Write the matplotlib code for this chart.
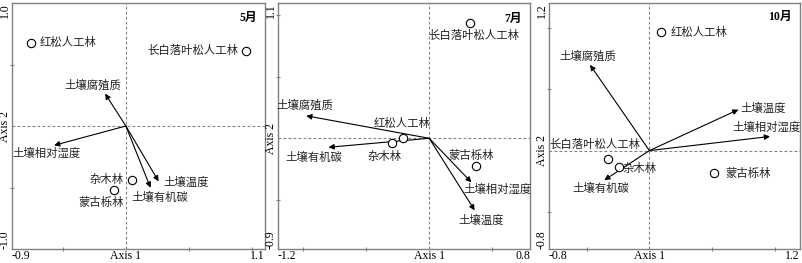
import matplotlib
matplotlib.use("Agg")
import matplotlib.pyplot as plt
import numpy as np

plt.rcParams['font.family'] = ['Liberation Serif', 'Noto Sans CJK SC', 'DejaVu Sans']

# ---------------- data ----------------
months = ['5月', '7月', '10月']
xlims = [(-0.9, 1.1), (-1.2, 0.8), (-0.8, 1.2)]
ylims = [(-1.0, 1.0), (-0.9, 1.1), (-0.8, 1.2)]
xlim_labels = [('-0.9', '1.1'), ('-1.2', '0.8'), ('-0.8', '1.2')]
ylim_labels = [('-1.0', '1.0'), ('-0.9', '1.1'), ('-0.8', '1.2')]

sites = ['红松人工林', '长白落叶松人工林', '杂木林', '蒙古栎林']
site_x_may = [-0.747, 0.947, 0.050, -0.095]
site_y_may = [0.676, 0.611, -0.437, -0.518]
site_x_jul = [-0.206, 0.322, -0.296, 0.372]
site_y_jul = [0.000, 0.935, -0.035, -0.228]
site_x_oct = [0.093, -0.332, -0.244, 0.513]
site_y_oct = [0.962, -0.071, -0.131, -0.180]

factors = ['土壤腐殖质', '土壤相对湿度', '土壤温度', '土壤有机碳']
fac_x_may = [-0.164, -0.567, 0.259, 0.195]
fac_y_may = [0.263, -0.157, -0.450, -0.502]
fac_x_jul = [-0.976, 0.335, 0.361, -0.799]
fac_y_jul = [0.183, -0.358, -0.586, -0.073]
fac_x_oct = [-0.473, 0.961, 0.709, -0.359]
fac_y_oct = [0.697, 0.115, 0.333, -0.240]

site_xs = [site_x_may, site_x_jul, site_x_oct]
site_ys = [site_y_may, site_y_jul, site_y_oct]
fac_xs = [fac_x_may, fac_x_jul, fac_x_oct]
fac_ys = [fac_y_may, fac_y_jul, fac_y_oct]

# ---------------- layout (label placement) ----------------
site_label_pos = [
    [(-0.681, 0.676, 'left'), (0.889, 0.611, 'right'), (-0.016, -0.434, 'right'), (-0.193, -0.619, 'center')],
    [(-0.219, 0.121, 'center'), (0.356, 0.833, 'center'), (-0.356, -0.148, 'center'), (0.335, -0.140, 'center')],
    [(0.173, 0.962, 'left'), (-0.438, 0.046, 'center'), (-0.080, -0.145, 'center'), (0.784, -0.186, 'center')],
]
fac_label_pos = [
    [(-0.259, 0.331), (-0.628, -0.225), (0.480, -0.456), (0.269, -0.578)],
    [(-0.984, 0.269), (0.546, -0.411), (0.414, -0.664), (-0.918, -0.156)],
    [(-0.491, 0.770), (0.930, 0.189), (0.903, 0.347), (-0.385, -0.309)],
]
month_pos = [(0.968, 0.882), (0.665, 0.968), (1.036, 1.085)]

W, H = 802, 263
fig = plt.figure(figsize=(W / 100, H / 100), dpi=100)
lefts = [12, 278, 549]
rights = [265, 530, 800]
bottom_px, top_px = 14, 3

gray = '#808080'
fs = 8.2

for i in range(3):
    ax = fig.add_axes([lefts[i] / W, bottom_px / H, (rights[i] - lefts[i]) / W,
                       (H - top_px - bottom_px) / H])
    x0, x1 = xlims[i]
    y0, y1 = ylims[i]
    ax.set_xlim(x0, x1)
    ax.set_ylim(y0, y1)
    for s in ax.spines.values():
        s.set_color(gray)
        s.set_linewidth(1.0)
    ax.axvline(0, color=gray, lw=0.8, ls=(0, (2.5, 2)), zorder=1)
    ax.axhline(0, color=gray, lw=0.8, ls=(0, (2.5, 2)), zorder=1)

    # ticks
    ax.set_xticks([x0, 0, x1])
    ax.set_xticklabels([xlim_labels[i][0], 'Axis 1', xlim_labels[i][1]])
    ax.set_yticks([y0, 0, y1])
    ax.set_yticklabels([ylim_labels[i][0], 'Axis 2', ylim_labels[i][1]], rotation=90)
    ax.tick_params(axis='x', which='major', length=0, labelsize=8.5, pad=0.5)
    ax.tick_params(axis='y', which='major', length=0, labelsize=8.5, pad=1)
    mx = [v for v in np.arange(-1.5, 1.51, 0.5) if x0 < v < x1 and abs(v) > 1e-9]
    my = [v for v in np.arange(-1.5, 1.51, 0.5) if y0 < v < y1 and abs(v) > 1e-9]
    ax.set_xticks(mx, minor=True)
    ax.set_yticks(my, minor=True)
    ax.tick_params(which='minor', direction='inout', length=3, width=0.8, color=gray)
    xl = ax.get_xticklabels()
    xl[0].set_ha('left')
    xl[-1].set_ha('right')
    yl = ax.get_yticklabels()
    yl[0].set_va('bottom')
    yl[1].set_va('center')
    yl[-1].set_va('top')
    for t in yl:
        t.set_ha('right')

    # arrows
    for j, name in enumerate(factors):
        ax.annotate('', xy=(fac_xs[i][j], fac_ys[i][j]), xytext=(0, 0),
                    arrowprops=dict(arrowstyle='-|>', color='black', lw=0.8,
                                    mutation_scale=8, shrinkA=0, shrinkB=0),
                    zorder=3)
        lx, ly = fac_label_pos[i][j]
        ax.text(lx, ly, name, fontsize=fs, ha='center', va='center', color='#222222')

    # sites
    ax.plot(site_xs[i], site_ys[i], 'o', ms=6, mfc='white', mec='black', mew=0.8,
            ls='none', zorder=4)
    for j, name in enumerate(sites):
        lx, ly, ha = site_label_pos[i][j]
        ax.text(lx, ly, name, fontsize=fs, ha=ha, va='center', color='#222222')

    mxp, myp = month_pos[i]
    ax.text(mxp, myp, months[i], fontsize=8.5, fontweight='bold', ha='center', va='center')

fig.savefig('out.png', dpi=100)
